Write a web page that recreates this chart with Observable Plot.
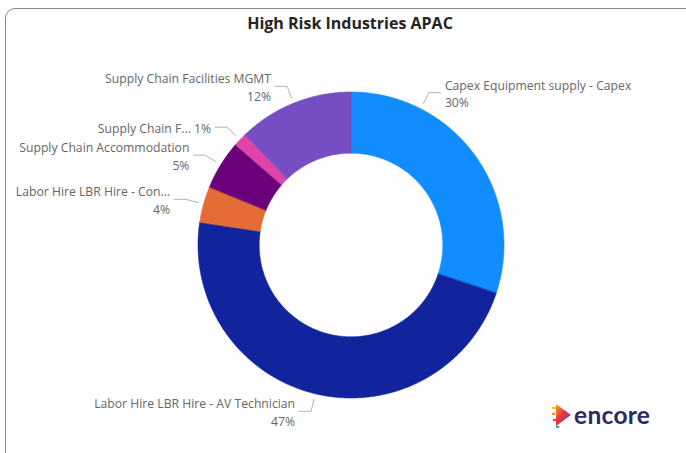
<!DOCTYPE html>
<html>
<head>
<meta charset="utf-8">
<script src="https://cdn.jsdelivr.net/npm/d3@7"></script>
<script src="https://cdn.jsdelivr.net/npm/@observablehq/plot@0.6"></script>
<style>
  html, body { margin: 0; padding: 0; background: #fff; }
  #wrap { position: relative; width: 686px; height: 453px; overflow: hidden; background: #fff; }
  #wrap svg.chart { position: absolute; left: 0; top: 0; }
  #card { position: absolute; left: 5px; top: 8px; width: 720px; height: 480px;
          border: 1.5px solid #8a8a8a; border-radius: 10px; pointer-events: none; box-sizing: border-box; }
  #title { position: absolute; left: 0; width: 700px; top: 12px; text-align: center;
           font-family: "Open Sans", sans-serif; font-weight: 700; font-size: 16px; color: #252423; }
  #logo { position: absolute; left: 552px; top: 401px; display: flex; align-items: center; }
  #logo span { font-family: "Lato", sans-serif; font-weight: 700; font-size: 24.5px; color: #2b2a63; letter-spacing: 0.3px; margin-left: 2px; line-height: 1; }
</style>
</head>
<body>
<div id="wrap">
  <div id="title">High Risk Industries APAC</div>
  <div id="card"></div>
  <div id="logo">
    <svg width="20" height="28" viewBox="0 0 20 28">
      <defs>
        <linearGradient id="g" x1="0" y1="0" x2="1" y2="1">
          <stop offset="0" stop-color="#f5a623"/>
          <stop offset="0.45" stop-color="#e8323c"/>
          <stop offset="1" stop-color="#3b5bdb"/>
        </linearGradient>
      </defs>
      <polygon points="4,3 19,14 4,25" fill="url(#g)"/>
      <rect x="0" y="6" width="4" height="2" fill="#f5c518"/>
      <rect x="0" y="12" width="3" height="2" fill="#f08c2e"/>
      <rect x="1" y="18" width="3" height="2" fill="#e8323c"/>
      <rect x="4" y="25" width="3" height="2" fill="#22a7c9"/>
    </svg>
    <span>encore</span>
  </div>
</div>
<script>
// ---- data ----
const names = [
  "Capex Equipment supply - Capex",
  "Labor Hire LBR Hire - AV Technician",
  "Labor Hire LBR Hire - Con...",
  "Supply Chain Accommodation",
  "Supply Chain F...",
  "Supply Chain Facilities MGMT"
];
const values = [30.1, 47.3, 3.8, 5.2, 1.4, 12.2];
const colors = ["#118DFF", "#12239E", "#E66C37", "#6B007B", "#E044A7", "#744EC2"];

// ---- layout ----
const W = 686, H = 453;
const cx = 350.5, cy = 244.5, R = 153;     // pixel centre & outer radius
const innerRatio = 0.6;
const leaderAt = [0.25, 0.5, 0.5, 0.5, 0.5, 0.5]; // fraction along slice where leader starts
const inlineLabel = [false, false, false, false, true, false];
const rStart = 1.036, rElbow = 1.118, horiz = 12 / R, gap = 4;

const total = d3.sum(values);
let acc = 0;
const slices = values.map((v, i) => {
  const a0 = acc / total * 2 * Math.PI;
  acc += v;
  const a1 = acc / total * 2 * Math.PI;
  return {name: names[i], value: v, a0, a1, i};
});

const pol = (r, a) => ({x: r * Math.sin(a), y: r * Math.cos(a)});

const slicePts = [];
for (const s of slices) {
  const n = Math.max(2, Math.ceil((s.a1 - s.a0) / (Math.PI / 360)));
  for (let k = 0; k <= n; k++) {
    const a = s.a0 + (s.a1 - s.a0) * k / n;
    slicePts.push({name: s.name, ...pol(1, a)});
  }
  for (let k = n; k >= 0; k--) {
    const a = s.a0 + (s.a1 - s.a0) * k / n;
    slicePts.push({name: s.name, ...pol(innerRatio, a)});
  }
}

const leaderPts = [];
const labels = [];
for (const s of slices) {
  const a = s.a0 + (s.a1 - s.a0) * leaderAt[s.i];
  const p0 = pol(rStart, a), p1 = pol(rElbow, a);
  const right = Math.sin(a) >= 0;
  const p2 = {x: p1.x + (right ? horiz : -horiz), y: p1.y};
  leaderPts.push({name: s.name, ...p0}, {name: s.name, ...p1}, {name: s.name, ...p2});
  const pct = Math.round(s.value / total * 100) + "%";
  labels.push({
    x: p2.x, y: p2.y, right,
    text: inlineLabel[s.i] ? s.name + " " + pct : s.name + "\n" + pct
  });
}

const textStyle = {x: "x", y: "y", text: "text", lineAnchor: "middle", lineHeight: 1.45,
  fontFamily: "Open Sans, sans-serif", fontSize: 12.2, fill: "#666666"};

const chart = Plot.plot({
  width: W, height: H, margin: 0,
  style: {background: "transparent", overflow: "visible"},
  x: {domain: [-cx / R, (W - cx) / R], range: [0, W], axis: null},
  y: {domain: [cy / R, -(H - cy) / R], range: [0, H], axis: null},
  color: {domain: names, range: colors},
  marks: [
    Plot.line(slicePts, {x: "x", y: "y", z: "name", fill: "name", stroke: "name", strokeWidth: 0.6, curve: "linear-closed"}),
    Plot.line(leaderPts, {x: "x", y: "y", z: "name", stroke: "#b3b3b3", strokeWidth: 1}),
    Plot.text(labels.filter(d => d.right), {...textStyle, textAnchor: "start", dx: gap}),
    Plot.text(labels.filter(d => !d.right), {...textStyle, textAnchor: "end", dx: -gap})
  ]
});
chart.classList.add("chart");
document.getElementById("wrap").insertBefore(chart, document.getElementById("card"));
</script>
</body>
</html>
